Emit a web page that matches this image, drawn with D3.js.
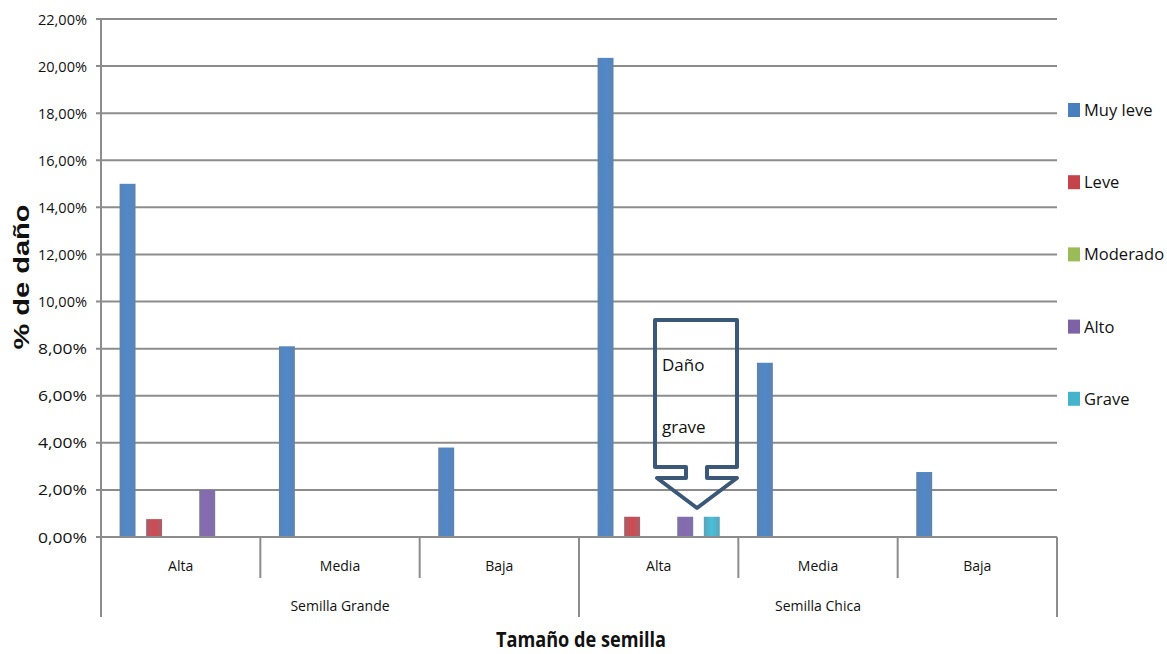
<!DOCTYPE html>
<html>
<head>
<meta charset="utf-8">
<script src="https://cdn.jsdelivr.net/npm/d3@7/dist/d3.min.js"></script>
<style>
  html, body { margin: 0; padding: 0; background: #fff; }
  svg { display: block; }
  text { font-family: "Open Sans", "DejaVu Sans", sans-serif; fill: #111; }
</style>
</head>
<body>
<svg id="chart" width="1167" height="654"></svg>
<script>
// ---- data ----
const groups = ["Semilla Grande", "Semilla Chica"];
const levels = ["Alta", "Media", "Baja"];
const series = ["Muy leve", "Leve", "Moderado", "Alto", "Grave"];
const colors = ["#4a7fbd", "#c4444a", "#9bbb59", "#7e62a6", "#45b3cc"];
// values in %, one entry per category (group x level)
const muyLeve  = [15.0, 8.1, 3.8, 20.35, 7.4, 2.76];
const leve     = [0.76, 0, 0, 0.86, 0, 0];
const moderado = [0, 0, 0, 0, 0, 0];
const alto     = [2.0, 0, 0, 0.86, 0, 0];
const grave    = [0, 0, 0, 0.86, 0, 0];
const yTicks = [0, 2, 4, 6, 8, 10, 12, 14, 16, 18, 20, 22];
const yTitle = "% de daño";
const xTitle = "Tamaño de semilla";
const calloutText = ["Daño", "grave"];

(function () {
const seriesValues = [muyLeve, leve, moderado, alto, grave];
const categories = [];
groups.forEach(g => levels.forEach(l => categories.push({group: g, level: l, key: g + "|" + l})));

// ---- layout ----
const svg = d3.select("#chart");
const pL = 101, pR = 1057, pT = 19, pB = 537;
const gridColor = "#8c8c8c";

const y = d3.scaleLinear().domain([0, 22]).range([pB, pT]);
const x0 = d3.scaleBand().domain(categories.map(c => c.key)).range([pL, pR]).padding(0);
const x1 = d3.scaleBand().domain(series).range([0, x0.bandwidth()]).paddingInner(0.4).paddingOuter(0.7);
const xg = d3.scaleBand().domain(groups).range([pL, pR]).padding(0);

// gradients for bars
const defs = svg.append("defs");
colors.forEach((c, i) => {
  const g = defs.append("linearGradient").attr("id", "grad" + i)
    .attr("x1", "0%").attr("x2", "100%").attr("y1", "0%").attr("y2", "0%");
  const base = d3.color(c);
  const dark = d3.interpolateRgb(c, "#7a8aa0")(0.4);
  g.append("stop").attr("offset", "0%").attr("stop-color", dark);
  g.append("stop").attr("offset", "50%").attr("stop-color", base.brighter(0.2).formatHex());
  g.append("stop").attr("offset", "100%").attr("stop-color", dark);
});

// gridlines
svg.append("g").selectAll("line").data(yTicks).join("line")
  .attr("x1", pL - 5).attr("x2", pR)
  .attr("y1", d => y(d)).attr("y2", d => y(d))
  .attr("stroke", gridColor).attr("stroke-width", 2);

// y axis labels
svg.append("g").selectAll("text").data(yTicks).join("text")
  .attr("x", 87).attr("y", d => y(d) + 5.5)
  .attr("text-anchor", "end")
  .style("font-size", "15px")
  .attr("textLength", 49).attr("lengthAdjust", "spacingAndGlyphs")
  .text(d => d3.format(".2f")(d).replace(".", ",") + "%");

// bars
const barData = [];
categories.forEach((c, ci) => {
  series.forEach((s, si) => {
    barData.push({cat: c.key, s, si, v: seriesValues[si][ci]});
  });
});
svg.append("g").selectAll("rect").data(barData.filter(d => d.v > 0)).join("rect")
  .attr("x", d => x0(d.cat) + x1(d.s))
  .attr("width", x1.bandwidth())
  .attr("y", d => y(d.v))
  .attr("height", d => y(0) - y(d.v))
  .attr("fill", d => "url(#grad" + d.si + ")");

// axis lines
svg.append("line").attr("x1", pL).attr("x2", pL).attr("y1", pT - 1).attr("y2", 617)
  .attr("stroke", gridColor).attr("stroke-width", 2);
svg.append("line").attr("x1", pL).attr("x2", pR).attr("y1", pB).attr("y2", pB)
  .attr("stroke", gridColor).attr("stroke-width", 2);

// category separators
const sepData = categories.map((c, i) => ({x: x0(c.key) + x0.bandwidth(), long: (i + 1) % levels.length === 0}));
svg.append("g").selectAll("line").data(sepData).join("line")
  .attr("x1", d => d.x).attr("x2", d => d.x)
  .attr("y1", pB).attr("y2", d => d.long ? 617 : 578)
  .attr("stroke", gridColor).attr("stroke-width", 2);

// category labels
svg.append("g").selectAll("text").data(categories).join("text")
  .attr("x", c => x0(c.key) + x0.bandwidth() / 2).attr("y", 571)
  .attr("text-anchor", "middle").style("font-size", "14px")
  .text(c => c.level);

svg.append("g").selectAll("text").data(groups).join("text")
  .attr("x", g => xg(g) + xg.bandwidth() / 2).attr("y", 611)
  .attr("text-anchor", "middle").style("font-size", "14px")
  .text(g => g);

// axis titles
svg.append("text").attr("x", 581).attr("y", 647)
  .attr("text-anchor", "middle").style("font-size", "21px").style("font-weight", "bold")
  .attr("textLength", 170).attr("lengthAdjust", "spacingAndGlyphs")
  .text(xTitle);

svg.append("text").attr("transform", "translate(29,277) rotate(-90)")
  .attr("text-anchor", "middle").style("font-size", "22px").style("font-weight", "bold")
  .style("font-family", "'Liberation Sans', Arial, sans-serif")
  .attr("textLength", 145).attr("lengthAdjust", "spacingAndGlyphs")
  .text(yTitle);

// legend
const legend = svg.append("g").selectAll("g").data(series).join("g")
  .attr("transform", (d, i) => `translate(1068, ${110 + i * 72.2})`);
legend.append("rect").attr("x", 0).attr("y", -7).attr("width", 12).attr("height", 14)
  .attr("fill", (d, i) => colors[i]);
legend.append("text").attr("x", 16).attr("y", 6).style("font-size", "16.5px").text(d => d);

// callout (down arrow callout)
const cx0 = 655, cx1 = 737, cyTop = 320, cyBody = 467, neckL = 686, neckR = 707, headY = 478, tipX = 697, tipY = 508;
const path = d3.path();
path.moveTo(cx0, cyTop);
path.lineTo(cx1, cyTop);
path.lineTo(cx1, cyBody);
path.lineTo(neckR, cyBody);
path.lineTo(neckR, headY);
path.lineTo(cx1, headY);
path.lineTo(tipX, tipY);
path.lineTo(cx0 + 2, headY);
path.lineTo(neckL, headY);
path.lineTo(neckL, cyBody);
path.lineTo(cx0, cyBody);
path.closePath();
svg.append("path").attr("d", path.toString())
  .attr("fill", "none").attr("stroke", "#3b5878").attr("stroke-width", 4)
  .attr("stroke-linejoin", "round");
svg.append("g").selectAll("text").data(calloutText).join("text")
  .attr("x", 662).attr("y", (d, i) => 371 + i * 62)
  .style("font-size", "17px").text(d => d);
})();
</script>
</body>
</html>
